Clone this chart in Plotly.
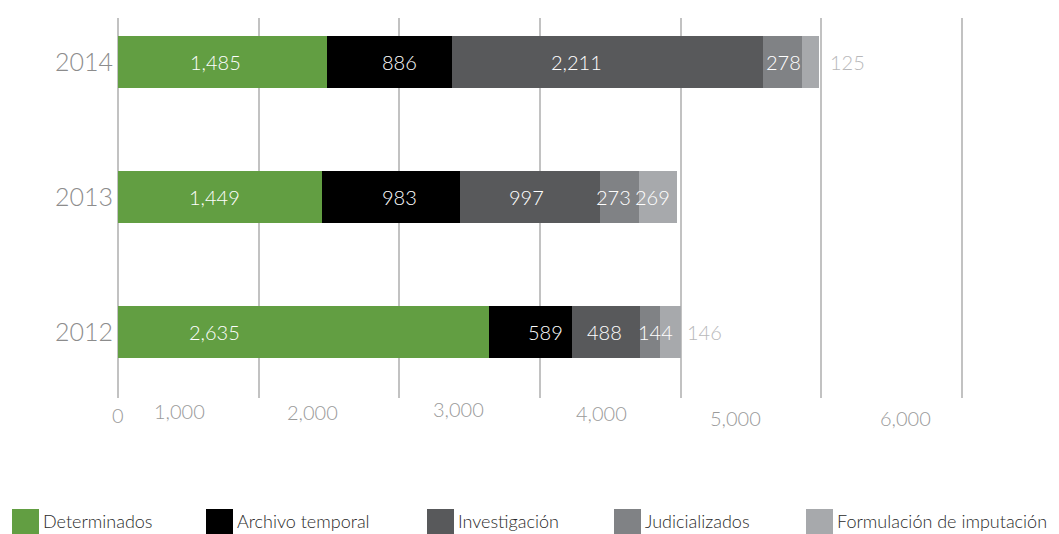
import plotly.graph_objects as go

# ---------------- data ----------------
years = ["2012", "2013", "2014"]
series_names = ["Determinados", "Archivo temporal", "Investigación",
                "Judicializados", "Formulación de imputación"]
determinados = [2635, 1449, 1485]
archivo_temporal = [589, 983, 886]
investigacion = [488, 997, 2211]
judicializados = [144, 273, 278]
formulacion = [146, 269, 125]
x_tick_values = [0, 1000, 2000, 3000, 4000, 5000, 6000]
x_tick_labels = ["0", "1,000", "2,000", "3,000", "4,000", "5,000", "6,000"]

series_values = [determinados, archivo_temporal, investigacion,
                 judicializados, formulacion]

# ---------------- style ----------------
colors = ["#629e42", "#000000", "#58595b", "#808285", "#a7a9ac"]
FONT = "Lato"
W, H = 1059, 534
ML, MR, MT, MB = 118, 95, 18, 136
PW = W - ML - MR
PH = H - MT - MB
X_MAX = 6014

# label horizontal nudges (px) per series, per year (2012, 2013, 2014)
label_shift = [[-89, -5, -7], [15, 9, 10], [-1, -4, -31], [5, -6, 1], [0, -5, 0]]
outside_gap = [4, 0, 9]
# tick label placement (px offset from gridline, px y centre)
tick_dx = [-0.5, -79.5, -87, -82, -79, -86, -57]
tick_py = [415, 411, 412, 409, 413, 418, 418]

fig = go.Figure()
for name, vals, col in zip(series_names, series_values, colors):
    fig.add_trace(go.Bar(
        y=years, x=vals, name=name, orientation="h",
        marker=dict(color=col, line=dict(width=0)),
        showlegend=False, hoverinfo="x+name",
    ))

annotations = []
# bar value labels
for yi, yr in enumerate(years):
    base = 0
    total = sum(s[yi] for s in series_values)
    for si, vals in enumerate(series_values):
        v = vals[yi]
        last = si == len(series_values) - 1
        if last and v < 200:
            annotations.append(dict(
                x=total, y=yi, xref="x", yref="y", text=f"{v:,}",
                showarrow=False, xanchor="left", yanchor="middle",
                xshift=outside_gap[yi],
                font=dict(family=FONT, size=20, color="#b8b8ba", weight=300)))
        else:
            annotations.append(dict(
                x=base + v / 2, y=yi, xref="x", yref="y", text=f"{v:,}",
                showarrow=False, xanchor="center", yanchor="middle",
                xshift=label_shift[si][yi],
                font=dict(family=FONT, size=20, color="#ffffff", weight=300)))
        base += v

# x tick labels
for tv, tl, dx, py in zip(x_tick_values, x_tick_labels, tick_dx, tick_py):
    annotations.append(dict(
        x=tv, y=0, xref="x", yref="paper", text=tl, showarrow=False,
        xanchor="center", yanchor="middle", xshift=dx, yshift=-(py - (MT + PH)),
        font=dict(family=FONT, size=20, color="#9a9a9a", weight=300)))

# manual legend
legend_sq_x = [12, 206, 427, 614, 806]
shapes = []
for name, col, sx in zip(series_names, colors, legend_sq_x):
    x0 = (sx - ML) / PW
    x1 = (sx + 27 - ML) / PW
    y0 = (MT + PH - 535) / PH
    y1 = (MT + PH - 509) / PH
    shapes.append(dict(type="rect", xref="paper", yref="paper",
                       x0=x0, x1=x1, y0=y0, y1=y1,
                       fillcolor=col, line=dict(width=0), layer="above"))
    annotations.append(dict(
        x=(sx + 29 - ML) / PW, y=(MT + PH - 521) / PH, xref="paper", yref="paper",
        text=name, showarrow=False, xanchor="left", yanchor="middle",
        font=dict(family=FONT, size=18, color="#2a2a2a", weight=300)))

fig.update_layout(
    width=W, height=H,
    margin=dict(l=ML, r=MR, t=MT, b=MB, pad=0, autoexpand=False),
    barmode="stack", bargap=0.615,
    plot_bgcolor="white", paper_bgcolor="white",
    font=dict(family=FONT, color="#8c8c8c", weight=300),
    xaxis=dict(range=[0, X_MAX], tickvals=x_tick_values, showticklabels=False,
               showgrid=True, gridcolor="#c2c2c2", gridwidth=1.5,
               zeroline=True, zerolinecolor="#c2c2c2", zerolinewidth=1.5,
               showline=False, ticks="", fixedrange=True, automargin=False),
    yaxis=dict(type="category", categoryorder="array", categoryarray=years,
               range=[-0.489, 2.326], showgrid=False, zeroline=False,
               showline=False, ticks="", ticklabelstandoff=4, automargin=False,
               tickfont=dict(family=FONT, size=25, color="#8c8c8c", weight=300),
               fixedrange=True),
    annotations=annotations, shapes=shapes, showlegend=False,
)

fig.write_html("out.html", config={"displayModeBar": False},
               post_script="document.body.style.margin='0';")
